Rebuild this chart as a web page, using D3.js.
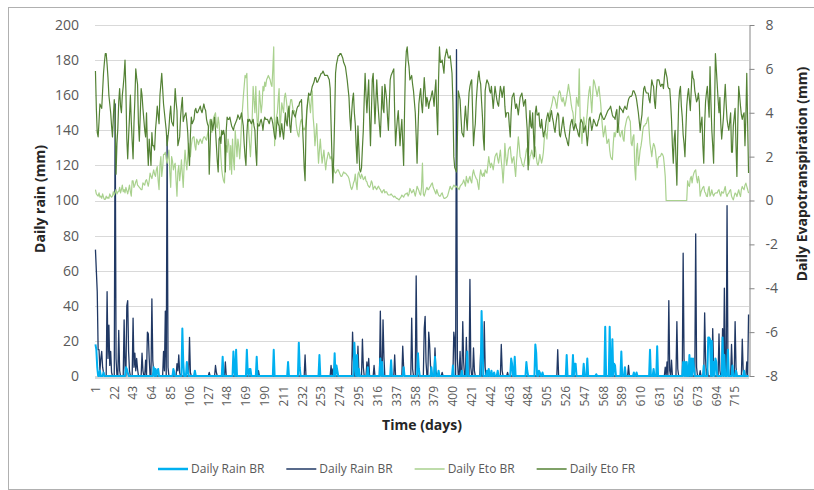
<!DOCTYPE html>
<html>
<head>
<meta charset="utf-8">
<script src="https://cdn.jsdelivr.net/npm/d3@7"></script>
<style>
body { margin: 0; background: #fff; }
text { font-family: "Open Sans", sans-serif; }
</style>
</head>
<body>
<div id="chart"></div>
<script>
// chart values
var days = d3.range(1, 731);
var xLabels = days.filter(d => (d - 1) % 21 === 0);
var leftTicks = d3.range(0, 201, 20);
var rightTicks = d3.range(-8, 9, 2);
var seriesNames = ["Daily Rain BR", "Daily Rain BR", "Daily Eto BR", "Daily Eto FR"];

// rain events [day, mm]; every other day is 0
var rainBRLight = [[1,18],[2,15],[3,5],[6,3],[10,2],[35,5],[36,4],[37,2],[66,5],[68,4],[70,3],[71,4],[88,4],[89,2],
  [98,27],[99,8],[103,8],[104,3],[112,3],[143,11],[155,14],[156,3],[158,15],[170,15],[171,2],[173,4],[174,4],
  [181,11],[200,15],[216,8],[228,19],[229,5],[251,12],[268,13],[270,6],[271,3],[290,19],[291,8],[293,12],[295,4],
  [305,5],[319,10],[321,8],[331,9],[345,5],[361,13],[362,4],[376,5],[380,11],[384,3],[400,6],[410,3],[416,14],
  [432,37],[433,18],[438,3],[440,4],[443,3],[446,2],[450,3],[465,10],[466,7],[469,11],[482,8],[483,3],[492,18],
  [493,13],[496,3],[497,2],[500,2],[527,12],[534,12],[536,7],[537,7],[546,7],[550,10],[560,1],[570,28],[575,28],
  [578,21],[580,7],[581,6],[588,14],[592,5],[602,2],[605,2],[620,15],[624,4],[628,17],[657,8],[659,8],[661,8],
  [664,12],[666,10],[668,10],[669,5],[680,6],[685,22],[686,22],[687,21],[689,20],[691,8],[693,10],[694,8],
  [701,22],[703,12],[707,15],[712,6],[716,3],[725,3]];

var rainBRDark = [[1,72],[2,60],[3,48],[4,15],[5,15],[6,3],[7,10],[8,14],[9,5],[10,2],[14,48],[15,10],[16,29],
  [17,6],[18,14],[19,2],[23,155],[24,10],[27,26],[28,3],[33,32],[34,5],[36,40],[37,43],[38,14],[39,3],[43,33],
  [44,5],[45,13],[46,3],[47,10],[48,4],[53,13],[54,3],[57,9],[59,25],[60,24],[61,10],[64,44],[65,9],[66,2],
  [77,14],[78,3],[79,37],[81,137],[82,5],[92,7],[93,3],[94,12],[95,2],[106,22],[107,2],[128,2],[135,6],[136,2],
  [146,8],[183,3],[235,12],[264,6],[266,4],[288,25],[289,10],[294,17],[295,3],[299,21],[300,5],[304,8],[306,10],
  [312,6],[319,37],[320,3],[322,32],[323,11],[335,12],[344,17],[345,5],[354,33],[355,4],[359,57],[360,5],
  [368,27],[369,34],[370,8],[373,25],[374,18],[375,6],[380,16],[381,3],[388,2],[401,25],[402,20],[404,186],
  [405,10],[408,14],[411,31],[412,8],[415,22],[419,55],[420,5],[423,16],[424,3],[431,14],[435,31],[436,5],
  [454,18],[455,3],[461,2],[517,15],[596,6],[637,5],[639,8],[641,43],[642,3],[644,9],[650,31],[651,4],[657,70],
  [658,10],[660,3],[671,81],[672,5],[676,3],[681,36],[682,10],[684,4],[690,27],[691,5],[697,24],[698,3],[701,27],
  [703,50],[706,97],[707,8],[711,18],[712,3],[715,31],[716,5],[723,21],[724,3],[728,8],[730,35]];

// daily evapotranspiration, mm (days 1..730)
var etoBR = [
  0.5,0.3,0.25,0.2,0.35,0.15,0.2,0.1,0.3,0.15, 0.05,0.05,0.2,0.1,0.15,0.1,0.3,0.2,0.15,0.2,
  0.4,0.25,0.35,0.5,0.3,0.4,0.4,0.6,0.35,0.5, 0.7,0.4,0.5,0.35,0.6,0.45,0.3,0.5,0.7,0.4,
  0.2,0.9,0.9,0.6,0.7,0.85,0.95,0.7,0.65,0.6, 0.55,0.5,0.5,0.8,0.75,0.7,0.9,0.95,0.8,0.65,
  0.9,1.25,1.1,1.0,1.2,1.4,1.2,1.1,1.4,1.55, 0.9,0.5,1.6,2.0,1.1,1.5,2.1,2.1,2.2,1.9,
  1.7,2.0,2.3,1.3,0.6,2.0,1.8,1.4,1.6,1.7, 0.9,0.2,1.3,1.6,0.9,1.3,1.85,1.2,0.6,1.6,
  2.3,1.8,1.4,2.0,2.6,2.3,2.0,2.5,2.8,2.9, 2.9,2.5,2.3,2.8,2.7,2.55,2.7,2.8,2.7,2.6,
  2.8,2.9,2.9,2.8,2.75,3.0,3.2,3.5,3.7,3.3, 3.1,3.6,3.8,3.9,4.0,3.4,3.3,3.8,3.5,2.9,
  2.0,1.4,1.1,0.9,0.8,1.9,2.5,2.2,2.8,2.5, 1.4,2.5,1.2,2.8,1.9,1.4,3.2,2.6,2.0,2.8,
  2.5,1.9,2.5,3.5,4.1,4.7,5.2,5.7,5.6,5.8, 4.2,3.2,2.6,2.0,2.8,3.8,5.2,4.6,4.0,5.2,
  4.0,3.2,3.8,5.0,4.5,4.0,4.4,5.2,5.0,5.4, 5.2,5.5,5.6,5.7,5.6,5.5,5.3,5.2,6.0,7.0,
  2.5,3.5,3.8,4.0,4.6,5.1,3.2,3.8,4.45,4.2, 4.0,4.7,4.9,4.6,4.2,3.8,3.9,4.3,4.6,4.6,
  4.3,4.0,4.1,4.0,3.5,3.2,3.0,2.9,3.3,3.6, 3.7,3.5,3.2,3.3,3.2,3.6,4.2,4.6,4.75,4.4,
  4.0,4.6,5.0,3.8,3.3,2.5,3.0,3.5,2.5,1.7, 2.3,2.8,2.2,1.7,2.0,2.3,1.8,1.4,1.8,2.0,
  2.2,2.1,1.9,2.0,1.9,1.7,1.5,1.3,1.25,1.3, 1.4,1.4,1.3,1.2,1.1,1.1,1.2,1.3,1.25,1.25,
  1.2,1.15,1.1,1.0,0.8,0.6,0.5,0.6,0.8,0.9, 1.2,0.8,0.5,1.2,1.3,1.1,1.0,1.2,1.1,0.95,
  1.0,1.1,0.9,0.85,0.7,0.64,0.6,0.7,0.9,0.8, 0.5,0.6,0.65,0.55,0.5,0.6,0.65,0.55,0.5,0.4,
  0.35,0.45,0.5,0.35,0.4,0.4,0.3,0.25,0.25,0.25, 0.3,0.25,0.2,0.15,0.2,0.15,0.1,0.1,0.05,0.03,
  0.1,0.15,0.25,0.2,0.15,0.25,0.3,0.3,0.35,0.2, 0.3,0.55,0.45,0.35,0.4,0.5,0.35,0.2,0.4,0.65,
  0.55,0.45,0.3,0.25,0.6,1.7,0.3,0.2,0.35,0.5, 0.6,0.5,0.5,0.6,0.65,0.75,0.8,0.6,0.5,0.4,
  0.3,0.5,0.35,0.25,0.2,0.2,0.3,0.35,0.2,0.1, 0.1,0.12,0.15,0.2,0.35,0.5,0.65,0.55,0.5,0.6,
  0.7,0.65,0.6,0.65,0.6,0.55,0.5,0.64,0.7,0.75, 0.8,0.94,0.8,0.65,1.1,0.9,0.8,1.0,1.1,0.9,
  0.8,1.2,1.4,1.2,1.1,1.0,0.95,0.7,0.5,1.1, 1.4,1.2,1.1,1.25,1.1,1.4,1.3,1.25,1.6,2.0,
  1.7,1.5,1.7,1.6,1.4,1.7,2.0,2.1,2.16,1.9, 1.7,2.0,2.3,1.8,1.4,0.8,1.5,2.6,2.0,1.6,
  1.9,2.3,2.4,2.45,2.0,1.7,1.9,2.0,1.5,1.1, 1.8,2.3,2.9,2.5,2.0,1.9,1.7,1.6,1.55,1.8,
  2.0,2.3,2.4,1.6,1.6,2.0,2.1,2.3,2.1,1.9, 2.2,2.45,2.0,1.7,1.6,1.8,2.1,1.9,1.7,1.9,
  2.2,2.8,3.2,3.0,2.8,3.4,3.8,4.0,4.15,4.3, 4.5,4.75,4.7,4.6,4.4,4.2,4.6,4.9,5.0,4.9,
  4.6,4.5,4.7,4.5,4.3,4.5,4.75,5.0,5.3,5.0, 4.75,4.4,4.15,4.0,3.6,3.3,4.0,4.7,4.5,4.3,
  6.0,3.8,3.2,2.6,3.3,3.8,3.5,3.2,3.6,4.0, 4.6,5.0,5.2,4.6,4.0,4.8,5.5,5.4,5.2,5.0,
  4.75,5.0,5.2,4.8,4.4,3.8,3.3,2.9,3.1,3.4, 3.0,2.6,2.7,2.8,2.3,2.0,1.9,1.86,2.6,3.1,
  2.9,3.1,3.23,3.5,3.4,3.0,2.9,3.1,3.2,2.8, 2.7,3.3,3.5,3.7,3.8,3.85,3.7,3.6,2.6,2.5,
  2.9,3.0,1.5,0.94,2.3,2.6,1.6,1.9,2.3,2.5, 2.8,3.2,3.4,3.4,3.5,3.5,3.7,3.8,3.2,2.6,
  2.3,2.0,2.4,2.6,2.5,2.3,1.9,1.5,1.9,2.0, 2.0,2.05,2.15,2.1,2.0,1.6,1.1,0,0,0,
  0,0,0,0,0,0,0,0,0,0, 0,0,0,0,0,0,0,0,0,0,
  0,0.9,0.7,0.64,1.0,1.1,0.8,1.1,1.25,1.35, 1.4,1.0,0.8,1.1,0.9,0.2,0.4,0.5,0.6,0.64,
  0.4,0.34,0.2,0.18,0.5,0.64,0.2,0.3,0.49,0.3, 0.2,0.3,0.34,0.35,0.34,0.45,0.49,0.3,0.2,0.41,
  0.35,0.34,0.5,0.64,0.3,0.18,0.3,0.34,0.45,0.49, 0.2,0.1,0.03,0.2,0.34,0.3,0.18,0.35,0.49,0.3,
  0.18,0.5,0.64,0.55,0.49,0.7,0.79,0.64,0.5,0.34];

var etoFR = [
  5.9,4.2,3.1,2.9,3.6,4.4,4.3,4.2,5.0,5.8, 6.3,6.7,6.7,6.2,5.6,4.8,4.4,4.0,3.4,2.9,
  3.8,4.6,4.0,1.2,2.6,3.3,4.5,5.1,4.3,4.0, 4.8,5.2,5.7,6.4,5.0,2.8,1.9,2.9,3.8,4.8,
  3.6,2.7,1.9,3.5,4.6,6.0,5.6,5.3,3.5,2.7, 3.9,5.1,4.8,4.2,3.7,3.2,2.9,4.0,2.5,1.6,
  2.8,2.2,1.6,3.1,2.5,2.5,2.3,3.2,3.7,4.3, 3.9,3.5,4.8,5.3,5.8,5.1,4.4,4.0,3.6,3.2,
  2.5,2.9,3.3,3.9,4.3,3.6,3.5,3.4,4.2,5.1, 4.5,4.1,2.5,2.7,2.9,3.8,4.3,4.7,3.6,3.8,
  3.9,4.0,3.6,3.1,2.2,1.6,3.0,3.8,3.5,3.6, 3.7,4.1,4.2,4.0,4.0,4.1,4.2,4.3,4.1,4.0,
  4.2,4.4,4.2,4.1,3.7,3.5,3.4,1.2,2.4,3.7, 3.5,3.2,3.5,3.8,3.2,2.5,1.8,1.3,2.8,2.9,
  2.6,3.2,3.0,3.2,3.0,1.3,3.2,3.8,3.7,3.7, 3.8,3.6,3.4,3.3,3.2,3.4,3.5,3.6,3.7,3.9,
  3.8,3.7,3.8,4.0,3.7,3.4,2.6,2.0,1.6,3.0, 3.7,3.6,3.7,3.6,3.5,3.6,3.7,3.4,3.2,2.2,
  1.6,3.5,3.4,3.4,3.6,3.7,3.5,3.2,3.6,3.8, 3.7,3.7,3.7,3.6,3.5,3.7,3.8,3.7,3.5,3.2,
  2.9,2.8,3.3,3.8,3.5,3.4,2.9,3.2,3.5,3.1, 2.8,3.4,4.0,3.6,3.4,4.0,4.3,3.4,3.1,3.7,
  4.1,4.0,3.9,3.8,4.0,4.2,4.3,4.3,4.5,4.5, 4.6,3.5,2.6,1.5,0.9,3.2,4.1,4.5,4.9,4.8,
  4.8,5.0,5.2,5.3,5.4,5.6,5.6,5.4,5.4,5.5, 5.6,5.7,5.8,5.8,5.9,5.8,5.7,5.7,5.7,5.7,
  5.6,5.5,5.1,3.5,2.0,0.8,2.0,3.8,5.8,6.2, 6.4,6.6,6.6,6.7,6.7,6.6,6.5,6.3,6.2,6.1,
  5.8,5.5,5.1,4.7,3.8,3.2,4.0,4.6,4.9,4.0, 3.5,2.5,1.7,3.4,2.4,1.4,1.3,1.5,2.4,3.2,
  4.6,5.8,4.8,4.0,4.8,5.5,3.8,2.5,4.0,5.5, 5.8,4.6,3.5,4.5,5.5,4.6,4.0,3.4,2.9,4.0,
  5.2,4.2,4.0,5.3,5.0,4.6,3.8,3.2,4.4,5.5, 5.7,5.8,5.9,6.0,4.0,2.5,3.2,3.7,4.1,3.3,
  2.5,3.2,3.7,2.6,1.6,4.0,6.0,6.8,7.0,6.4, 6.1,5.5,5.6,5.7,5.3,5.0,4.5,4.0,2.9,1.7,
  3.2,4.4,4.8,5.1,4.4,4.0,4.8,5.6,5.0,4.3, 4.7,4.5,4.2,4.5,4.6,4.8,5.0,4.7,4.3,5.0,
  5.5,4.0,3.0,5.5,7.0,6.3,6.3,6.4,6.1,5.8, 6.5,6.7,6.9,6.7,6.5,6.5,6.6,6.2,5.8,4.5,
  2.0,1.5,1.4,1.3,2.8,5.0,4.8,4.6,3.8,3.1, 3.0,2.9,3.7,4.3,3.7,3.2,4.1,4.9,5.2,5.4,
  5.5,4.0,2.5,3.1,3.5,4.5,5.1,5.6,5.9,5.5, 5.3,4.5,3.8,2.8,2.3,5.0,5.3,5.5,5.4,5.3,
  5.0,4.9,5.2,4.7,4.2,4.7,5.2,4.9,4.6,4.4, 4.3,4.8,5.2,5.0,4.7,5.0,5.2,4.3,3.8,4.0,
  4.0,4.0,3.4,2.9,4.0,4.7,4.8,4.9,4.5,4.2, 4.4,4.2,3.9,4.3,4.7,4.8,4.9,4.6,4.3,4.5,
  4.6,3.8,3.2,1.4,3.3,4.1,3.4,3.3,4.0,3.0, 2.0,4.0,4.3,3.9,3.9,4.0,3.4,3.3,3.7,3.3,
  2.9,3.1,3.2,3.6,3.8,4.0,3.8,3.6,3.9,4.1, 3.8,3.6,3.3,3.1,3.5,3.8,4.0,3.9,3.0,2.9,
  3.2,3.5,3.8,3.4,3.1,2.9,2.8,2.6,2.5,3.0, 3.4,3.6,3.7,3.4,3.2,3.4,3.5,3.3,3.2,3.0,
  2.9,3.5,3.7,3.6,3.5,3.1,3.3,3.4,3.0,2.5, 3.0,3.7,3.8,3.5,3.2,3.4,3.7,3.6,3.5,3.4,
  3.4,3.6,3.7,3.9,4.0,3.9,3.8,3.7,3.7,3.8, 3.9,4.0,4.1,4.15,4.2,4.3,4.1,3.9,3.8,3.8,
  3.7,4.0,4.15,3.1,3.5,4.3,4.2,4.15,4.1,4.0, 4.2,4.3,4.2,4.15,4.4,4.6,4.7,4.75,4.75,4.8,
  5.0,5.0,4.9,4.8,4.6,4.3,4.0,3.6,3.2,3.6, 3.9,4.6,5.1,5.2,5.0,4.9,4.9,4.9,4.6,4.45,
  5.0,5.5,5.3,5.2,4.5,4.2,5.0,5.5,5.5,5.5, 5.3,5.2,5.3,5.3,5.1,5.6,6.0,5.8,5.6,5.2,
  5.1,5.1,4.5,3.7,2.5,1.7,2.8,3.2,1.8,0.7, 2.8,4.4,5.0,5.2,4.3,3.8,3.0,2.6,2.0,3.2,
  4.3,4.8,5.1,4.6,4.1,5.0,5.9,5.6,5.5,5.0, 4.75,4.5,4.6,4.9,4.5,3.1,3.5,3.8,2.5,1.7,
  3.5,4.5,4.9,5.2,4.5,3.8,6.1,4.5,3.2,2.5, 1.7,4.0,6.7,6.0,5.3,4.6,4.0,4.7,3.5,2.8,
  3.3,3.8,4.6,5.3,4.4,3.7,3.4,3.2,3.6,4.0, 2.2,2.2,3.4,3.8,4.2,2.5,1.1,3.5,5.2,4.8,
  4.3,3.9,3.7,3.9,4.0,2.5,3.8,5.8,3.5,1.25];

function toDaily(events) {
  var m = new Map(events);
  return days.map(d => m.get(d) || 0);
}

var svgWidth = 814, svgHeight = 490;
var plot = { left: 95, right: 749, top: 25, bottom: 376 };

var svg = d3.select("#chart").append("svg")
  .attr("width", svgWidth)
  .attr("height", svgHeight);

// outer frame
svg.append("rect")
  .attr("x", 8.5).attr("y", 7.5)
  .attr("width", 806).attr("height", 482)
  .attr("fill", "#fff")
  .attr("stroke", "#b0b0b0");

var x = d3.scaleBand().domain(days).range([plot.left, plot.right]);
var yLeft = d3.scaleLinear().domain([0, 200]).range([plot.bottom, plot.top]);
var yRight = d3.scaleLinear().domain([-8, 8]).range([plot.bottom, plot.top]);
var cx = d => x(d) + x.bandwidth() / 2;

// gridlines
svg.append("g").selectAll("line")
  .data(leftTicks)
  .enter().append("line")
  .attr("x1", plot.left).attr("x2", plot.right)
  .attr("y1", d => Math.round(yLeft(d)) + 0.5)
  .attr("y2", d => Math.round(yLeft(d)) + 0.5)
  .attr("stroke", "#d9d9d9").attr("stroke-width", 1.2);

// category axis line (thick light grey)
svg.append("line")
  .attr("x1", plot.left).attr("x2", plot.right)
  .attr("y1", plot.bottom + 1.5).attr("y2", plot.bottom + 1.5)
  .attr("stroke", "#d9d9d9").attr("stroke-width", 3);

// left axis
var leftAxis = svg.append("g")
  .attr("transform", `translate(${plot.left},0)`)
  .call(d3.axisLeft(yLeft).tickValues(leftTicks).tickSize(0).tickPadding(16));
leftAxis.select(".domain").remove();
leftAxis.selectAll("text").attr("font-size", 14).attr("fill", "#595959")
  .style("font-family", "'Open Sans', sans-serif");

// right axis
var rightAxis = svg.append("g")
  .attr("transform", `translate(${plot.right + 0.5},0)`)
  .call(d3.axisRight(yRight).tickValues(rightTicks).tickSize(5).tickSizeOuter(0)
    .tickPadding(11).tickFormat(d => String(d)));
rightAxis.select(".domain").attr("stroke", "#868686");
rightAxis.selectAll(".tick line").attr("stroke", "#868686");
rightAxis.selectAll("text").attr("font-size", 14).attr("fill", "#595959")
  .style("font-family", "'Open Sans', sans-serif");

// bottom axis, rotated labels
var bottomAxis = svg.append("g")
  .attr("transform", `translate(0,${plot.bottom})`)
  .call(d3.axisBottom(x).tickValues(xLabels).tickSize(0));
bottomAxis.select(".domain").remove();
bottomAxis.selectAll("text")
  .attr("transform", "rotate(-90)")
  .attr("text-anchor", "end")
  .attr("x", -10).attr("y", 0).attr("dy", "0.35em")
  .attr("font-size", 12).attr("fill", "#595959")
  .style("font-family", "'Open Sans', sans-serif");

// series
var lineRain = d3.line().x((d, i) => cx(days[i])).y(d => yLeft(d));
var lineEto = d3.line().x((d, i) => cx(days[i])).y(d => yRight(d));

svg.append("path").datum(toDaily(rainBRDark))
  .attr("d", lineRain).attr("fill", "none")
  .attr("stroke", "#203864").attr("stroke-width", 1.3).attr("stroke-linejoin", "round");
svg.append("path").datum(toDaily(rainBRLight))
  .attr("d", lineRain).attr("fill", "none")
  .attr("stroke", "#00b0f0").attr("stroke-width", 2).attr("stroke-linejoin", "round");
svg.append("path").datum(etoBR)
  .attr("d", lineEto).attr("fill", "none")
  .attr("stroke", "#a9d18e").attr("stroke-width", 1.2).attr("stroke-linejoin", "round");
svg.append("path").datum(etoFR)
  .attr("d", lineEto).attr("fill", "none")
  .attr("stroke", "#548235").attr("stroke-width", 1.2).attr("stroke-linejoin", "round");

// axis titles
svg.append("text")
  .attr("x", 422).attr("y", 430)
  .attr("text-anchor", "middle")
  .attr("font-size", 14).attr("font-weight", "bold").attr("fill", "#262626")
  .text("Time (days)");
svg.append("text")
  .attr("transform", "translate(45,199) rotate(-90)")
  .attr("text-anchor", "middle")
  .attr("font-size", 14).attr("font-weight", "bold").attr("fill", "#262626")
  .text("Daily rain (mm)");
svg.append("text")
  .attr("transform", "translate(807,174) rotate(-90)")
  .attr("text-anchor", "middle")
  .attr("font-size", 14).attr("font-weight", "bold").attr("fill", "#262626")
  .text("Daily Evapotranspiration (mm)");

// legend
var legendColors = ["#00b0f0", "#203864", "#a9d18e", "#548235"];
var legendWidths = [2.5, 1.5, 1.5, 1.5];
var lx = 158, ly = 469;
seriesNames.forEach(function(name, i) {
  svg.append("line")
    .attr("x1", lx).attr("x2", lx + 30)
    .attr("y1", ly).attr("y2", ly)
    .attr("stroke", legendColors[i]).attr("stroke-width", legendWidths[i]);
  var t = svg.append("text")
    .attr("x", lx + 33).attr("y", ly + 4)
    .attr("font-size", 12).attr("fill", "#595959")
    .text(name);
  lx = lx + 33 + t.node().getComputedTextLength() + 22;
});
</script>
</body>
</html>
